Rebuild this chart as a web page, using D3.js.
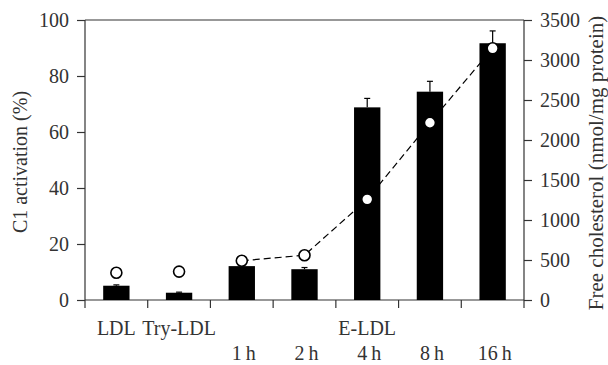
<!DOCTYPE html>
<html>
<head>
<meta charset="utf-8">
<script src="https://cdn.jsdelivr.net/npm/d3@7"></script>
<style>
  body { margin: 0; background: #fff; }
  text { font-family: "Liberation Serif", "Times New Roman", serif; fill: #333; }
</style>
</head>
<body>
<div id="chart"></div>
<script>
// categories along the x axis
var categories = ["LDL", "Try-LDL", "1h", "2h", "4h", "8h", "16h"];
var groupLabels = ["LDL", "Try-LDL", "", "", "E-LDL", "", ""];
var timeLabels = ["", "", "1\u2009h", "2\u2009h", "4\u2009h", "8\u2009h", "16\u2009h"];

// C1 activation (%) - bars, with error (upper)
var activation = [5.1, 2.6, 12.1, 11.0, 68.8, 74.4, 91.7];
var activationErr = [0.3, 0.2, 0.3, 0.6, 3.2, 3.7, 4.4];

// Free cholesterol (nmol/mg protein) - circles
var cholesterol = [340, 355, 490, 560, 1258, 2216, 3146];

var leftTicks = [0, 20, 40, 60, 80, 100];
var rightTicks = [0, 500, 1000, 1500, 2000, 2500, 3000, 3500];

var width = 608, height = 365;
var margin = {top: 20, right: 84, bottom: 65, left: 85};
var w = width - margin.left - margin.right;
var h = height - margin.top - margin.bottom;
var fs = "20px";

var svg = d3.select("#chart").append("svg")
    .attr("width", width).attr("height", height);
var g = svg.append("g").attr("transform", "translate(" + margin.left + "," + margin.top + ")");

var x = d3.scaleBand().domain(categories).range([0, w]).paddingInner(0).paddingOuter(0);
var yL = d3.scaleLinear().domain([0, 100]).range([h, 0]);
var yR = d3.scaleLinear().domain([0, 3500]).range([h, 0]);

var axisColor = "#333";
var barW = x.bandwidth() * 0.42;

// top frame line
g.append("line").attr("x1", 0).attr("x2", w).attr("y1", 0).attr("y2", 0)
    .attr("stroke", axisColor).attr("stroke-width", 1.2);

// left axis
var left = g.append("g")
    .call(d3.axisLeft(yL).tickValues(leftTicks).tickSize(8).tickPadding(8).tickFormat(d3.format("d")));
// right axis
var right = g.append("g").attr("transform", "translate(" + w + ",0)")
    .call(d3.axisRight(yR).tickValues(rightTicks).tickSize(8).tickPadding(8).tickFormat(d3.format("d")));
// bottom axis with ticks at band boundaries
var bottom = g.append("g").attr("transform", "translate(0," + h + ")");
bottom.append("line").attr("x1", 0).attr("x2", w).attr("stroke", axisColor).attr("stroke-width", 1.2);
bottom.selectAll(".bt").data(d3.range(categories.length + 1)).enter().append("line")
    .attr("x1", function(i) { return i * x.step(); })
    .attr("x2", function(i) { return i * x.step(); })
    .attr("y1", 0).attr("y2", 8)
    .attr("stroke", axisColor).attr("stroke-width", 1.2);

[left, right].forEach(function(a) {
  a.attr("font-family", null).attr("font-size", null);
  a.selectAll(".domain").attr("stroke", axisColor).attr("stroke-width", 1.2);
  a.selectAll(".tick line").attr("stroke", axisColor).attr("stroke-width", 1.2);
  a.selectAll(".tick text").style("font-size", fs).attr("fill", "#333");
});
right.select(".domain").attr("d", "M0,0V" + h);
left.select(".domain").attr("d", "M0,0V" + h);

// category labels
g.selectAll(".grp").data(categories).enter().append("text")
    .attr("x", function(d) { return x(d) + x.bandwidth() / 2; })
    .attr("y", h + 35)
    .attr("text-anchor", "middle")
    .style("font-size", fs)
    .text(function(d, i) { return groupLabels[i]; });
g.selectAll(".tm").data(categories).enter().append("text")
    .attr("x", function(d) { return x(d) + x.bandwidth() / 2 + 2; })
    .attr("y", h + 60)
    .attr("text-anchor", "middle")
    .style("font-size", fs)
    .text(function(d, i) { return timeLabels[i]; });

// axis titles
svg.append("text")
    .attr("transform", "translate(27,162) rotate(-90)")
    .attr("text-anchor", "middle")
    .style("font-size", fs)
    .text("C1 activation (%)");
svg.append("text")
    .attr("transform", "translate(603,163) rotate(-90)")
    .attr("text-anchor", "middle")
    .style("font-size", "21px")
    .text("Free cholesterol (nmol/mg protein)");

// dashed line through E-LDL points
var lineData = categories.slice(2).map(function(c, i) { return {c: c, v: cholesterol[i + 2]}; });
var line = d3.line()
    .x(function(d) { return x(d.c) + x.bandwidth() / 2; })
    .y(function(d) { return yR(d.v); });
g.append("path").datum(lineData)
    .attr("d", line)
    .attr("fill", "none")
    .attr("stroke", "#000")
    .attr("stroke-width", 1.2)
    .attr("stroke-dasharray", "7,4");

// bars
g.selectAll(".bar").data(categories).enter().append("rect")
    .attr("x", function(d) { return x(d) + (x.bandwidth() - barW) / 2; })
    .attr("y", function(d, i) { return yL(activation[i]); })
    .attr("width", barW)
    .attr("height", function(d, i) { return h - yL(activation[i]); })
    .attr("fill", "#000");

// error bars
categories.forEach(function(c, i) {
  var cx = x(c) + x.bandwidth() / 2;
  var y0 = yL(activation[i]), y1 = yL(activation[i] + activationErr[i]);
  g.append("line").attr("x1", cx).attr("x2", cx).attr("y1", y0).attr("y2", y1)
      .attr("stroke", "#000").attr("stroke-width", 1.2);
  g.append("line").attr("x1", cx - 3).attr("x2", cx + 3).attr("y1", y1).attr("y2", y1)
      .attr("stroke", "#000").attr("stroke-width", 1.2);
});

// circles
g.selectAll(".pt").data(categories).enter().append("circle")
    .attr("cx", function(d) { return x(d) + x.bandwidth() / 2; })
    .attr("cy", function(d, i) { return yR(cholesterol[i]); })
    .attr("r", 5.5)
    .attr("fill", "#fff")
    .attr("stroke", "#000")
    .attr("stroke-width", 1.6);
</script>
</body>
</html>
